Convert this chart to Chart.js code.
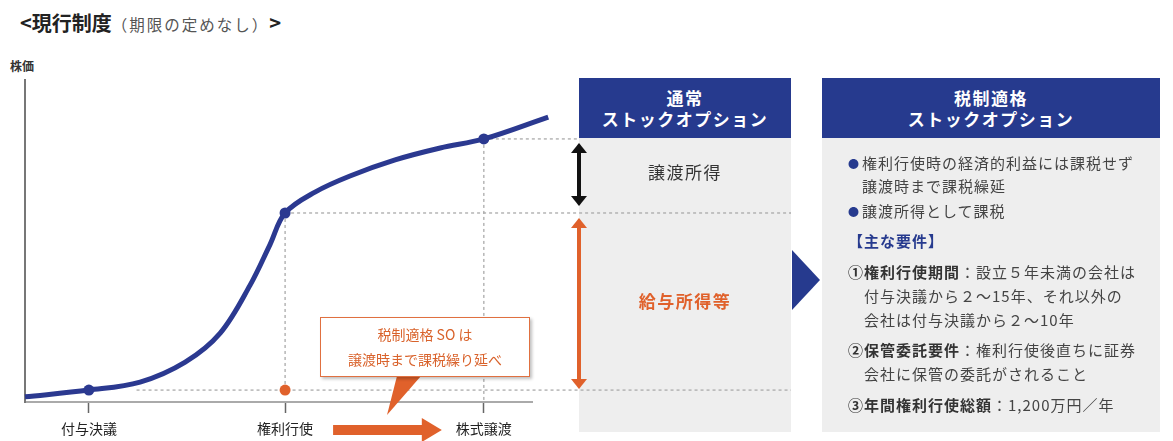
<!DOCTYPE html>
<html lang="ja">
<head>
<meta charset="utf-8">
<script src="https://cdn.jsdelivr.net/npm/chart.js@4.4.0/dist/chart.umd.min.js"></script>
<style>
  body { margin: 0; width: 1173px; height: 441px; position: relative; overflow: hidden; background: #fff;
         font-family: "Noto Sans CJK JP", "Noto Sans", sans-serif; color: #333; }
  #chart { position: absolute; left: 0; top: 0; z-index: 1; pointer-events: none; }
  .abs { position: absolute; }
  .title { left: 20px; top: 8px; font-weight: bold; font-size: 20px; color: #222; white-space: nowrap; }
  .title small { font-size: 15.5px; font-weight: normal; color: #555; letter-spacing: 2px; }
  .ylab { left: 10px; top: 57px; font-size: 12px; font-weight: bold; color: #333; }
  .panel { background: #eeeeee; top: 78px; height: 354px; z-index: 0; }
  .head { height: 60px; background: #263a8e; color: #fff; font-weight: bold; font-size: 17px;
          letter-spacing: 1.5px; line-height: 21px; text-align: center; box-sizing: border-box; padding-top: 9px; }
  .mid { width: 212px; text-align: center; font-size: 17px; letter-spacing: 1.5px; }
  .tri { left: 792px; top: 250px; width: 0; height: 0; border-left: 28px solid #263a8e;
         border-top: 30px solid transparent; border-bottom: 30px solid transparent; }
  .ln { left: 848px; font-size: 15px; letter-spacing: 1px; line-height: 20px; white-space: nowrap; color: #444; z-index: 2; }
  .ln b { color: #333; }
  .dot { color: #263a8e; font-size: 11px; letter-spacing: 3px; vertical-align: 1px; }
  .callout { left: 320px; top: 317px; width: 210px; height: 60px; background: #fff; border: 1.5px solid #e07040;
             box-shadow: 2px 2px 3px rgba(0,0,0,0.25); z-index: 2; color: #d9622b; font-size: 14px;
             text-align: center; line-height: 25px; box-sizing: border-box; padding-top: 4px; }
</style>
</head>
<body>
<div class="abs title">&lt;現行制度<small>（期限の定めなし）</small>&gt;</div>
<div class="abs ylab">株価</div>

<div class="abs panel" style="left:579px; width:212px;">
  <div class="head">通常<br>ストックオプション</div>
</div>
<div class="abs mid" style="left:579px; top:159px; color:#333; z-index:2;">譲渡所得</div>
<div class="abs mid" style="left:579px; top:288px; color:#e0612b; font-weight:bold; z-index:2;">給与所得等</div>
<div class="abs tri"></div>

<div class="abs panel" style="left:822px; width:338px;">
  <div class="head">税制適格<br>ストックオプション</div>
</div>
<div class="abs ln" style="top:153px;"><span class="dot">●</span>権利行使時の経済的利益には課税せず</div>
<div class="abs ln" style="top:176px; left:862px;">譲渡時まで課税繰延</div>
<div class="abs ln" style="top:201px;"><span class="dot">●</span>譲渡所得として課税</div>
<div class="abs ln" style="top:231px; font-weight:bold; color:#263a8e;">【主な要件】</div>
<div class="abs ln" style="top:262px;"><b>①権利行使期間</b>：設立５年未満の会社は</div>
<div class="abs ln" style="top:286px; left:864px;">付与決議から２～15年、それ以外の</div>
<div class="abs ln" style="top:310px; left:864px;">会社は付与決議から２～10年</div>
<div class="abs ln" style="top:340px;"><b>②保管委託要件</b>：権利行使後直ちに証券</div>
<div class="abs ln" style="top:364px; left:864px;">会社に保管の委託がされること</div>
<div class="abs ln" style="top:395px;"><b>③年間権利行使総額</b>：1,200万円／年</div>

<div class="abs callout">税制適格 SO は<br>譲渡時まで課税繰り延べ</div>

<canvas id="chart" width="1173" height="441"></canvas>

<script>
// stock price path (x = time, y = price)
const curveX = [0, 12.6, 22.7, 31.6, 38.5, 44.4, 48.3, 51.3, 57.2, 64.1, 73.0, 81.9, 90.5, 103.2];
const curveY = [1.6, 3.7, 6.2, 12.4, 21.4, 36.3, 48.8, 58.7, 65.2, 70.2, 75.2, 78.9, 81.7, 88.5];
// grant, exercise, transfer
const eventLabels = ['付与決議', '権利行使', '株式譲渡'];
const eventIndex = [1, 7, 12];
const eventX = eventIndex.map(i => curveX[i]);

const navy = '#2b3990';
const orange = '#e0612b';
const panelRight = 791;
const panelLeft = 579;

function dotted(ctx, x1, y1, x2, y2) {
    ctx.save();
    ctx.strokeStyle = '#aaaaaa';
    ctx.lineWidth = 1.3;
    ctx.setLineDash([3, 3]);
    ctx.beginPath();
    ctx.moveTo(x1, y1);
    ctx.lineTo(x2, y2);
    ctx.stroke();
    ctx.restore();
}

function vArrow(ctx, x, y1, y2, color) {
    ctx.save();
    ctx.strokeStyle = color;
    ctx.fillStyle = color;
    ctx.lineWidth = 4;
    ctx.beginPath();
    ctx.moveTo(x, y1 + 8);
    ctx.lineTo(x, y2 - 8);
    ctx.stroke();
    ctx.beginPath();
    ctx.moveTo(x, y1); ctx.lineTo(x - 8, y1 + 10); ctx.lineTo(x + 8, y1 + 10); ctx.closePath();
    ctx.fill();
    ctx.beginPath();
    ctx.moveTo(x, y2); ctx.lineTo(x - 8, y2 - 10); ctx.lineTo(x + 8, y2 - 10); ctx.closePath();
    ctx.fill();
    ctx.restore();
}

const guides = {
    id: 'guides',
    beforeDatasetsDraw(chart) {
        const ctx = chart.ctx;
        const xs = chart.scales.x, ys = chart.scales.y;
        const gy = ys.getPixelForValue(curveY[eventIndex[0]]);
        const ex = xs.getPixelForValue(eventX[1]), ey = ys.getPixelForValue(curveY[eventIndex[1]]);
        const tx = xs.getPixelForValue(eventX[2]), ty = ys.getPixelForValue(curveY[eventIndex[2]]);
        dotted(ctx, xs.getPixelForValue(22), gy, panelRight, gy);
        dotted(ctx, ex, ey, panelRight, ey);
        dotted(ctx, tx, ty, panelLeft, ty);
        dotted(ctx, ex, ey, ex, gy);
        dotted(ctx, tx, ty, tx, chart.chartArea.bottom);
    },
    afterDraw(chart) {
        const ctx = chart.ctx;
        const xs = chart.scales.x, ys = chart.scales.y;
        const gy = ys.getPixelForValue(curveY[eventIndex[0]]);
        const ey = ys.getPixelForValue(curveY[eventIndex[1]]);
        const ty = ys.getPixelForValue(curveY[eventIndex[2]]);
        vArrow(ctx, panelLeft, ty + 4, ey - 7, '#111');
        vArrow(ctx, panelLeft, ey + 5, gy - 1, orange);

        // orange arrow between exercise and transfer labels
        const ax1 = xs.getPixelForValue(eventX[1]) + 48;
        const ax2 = xs.getPixelForValue(eventX[2]) - 42;
        const ay = 430;
        ctx.save();
        ctx.fillStyle = orange;
        ctx.fillRect(ax1, ay - 5, ax2 - ax1 - 18, 10);
        ctx.beginPath();
        ctx.moveTo(ax2, ay); ctx.lineTo(ax2 - 20, ay - 12); ctx.lineTo(ax2 - 20, ay + 12); ctx.closePath();
        ctx.fill();
        // callout tail
        ctx.beginPath();
        ctx.moveTo(397, 376); ctx.lineTo(421, 376); ctx.lineTo(387, 415); ctx.closePath();
        ctx.fill();
        ctx.restore();
    }
};

new Chart(document.getElementById('chart'), {
    type: 'line',
    data: {
        datasets: [{
            data: curveX.map((x, i) => ({ x: x, y: curveY[i] })),
            borderColor: navy,
            backgroundColor: navy,
            borderWidth: 5,
            tension: 0.35,
            pointRadius: curveX.map((x, i) => eventIndex.includes(i) ? 5.5 : 0),
            pointBorderWidth: 0,
            clip: false
        }, {
            data: [{ x: eventX[1], y: curveY[eventIndex[0]] }],
            showLine: false,
            pointRadius: 5.5,
            pointBorderWidth: 0,
            backgroundColor: orange,
            borderColor: orange,
            clip: false
        }]
    },
    options: {
        responsive: false,
        animation: false,
        events: [],
        layout: { padding: { left: 25, right: 641, top: 80, bottom: 0 } },
        plugins: { legend: { display: false }, tooltip: { enabled: false } },
        scales: {
            x: {
                type: 'linear', min: 0, max: 100,
                grid: { drawOnChartArea: false, tickLength: 11, tickColor: '#666', tickWidth: 1.5 },
                border: { color: '#aaaaaa', width: 2 },
                afterBuildTicks: scale => { scale.ticks = eventX.map(v => ({ value: v })); },
                afterFit: scale => { scale.height = 39; },
                ticks: {
                    autoSkip: false, maxRotation: 0, padding: 7, color: '#222',
                    font: { family: 'Noto Sans CJK JP', size: 14 },
                    callback: v => eventLabels[eventX.indexOf(v)]
                }
            },
            y: {
                min: 0, max: 100,
                grid: { display: false },
                border: { color: '#777777', width: 2 },
                ticks: { display: false },
                afterFit: scale => { scale.width = 0; }
            }
        }
    },
    plugins: [guides]
});
</script>
</body>
</html>
